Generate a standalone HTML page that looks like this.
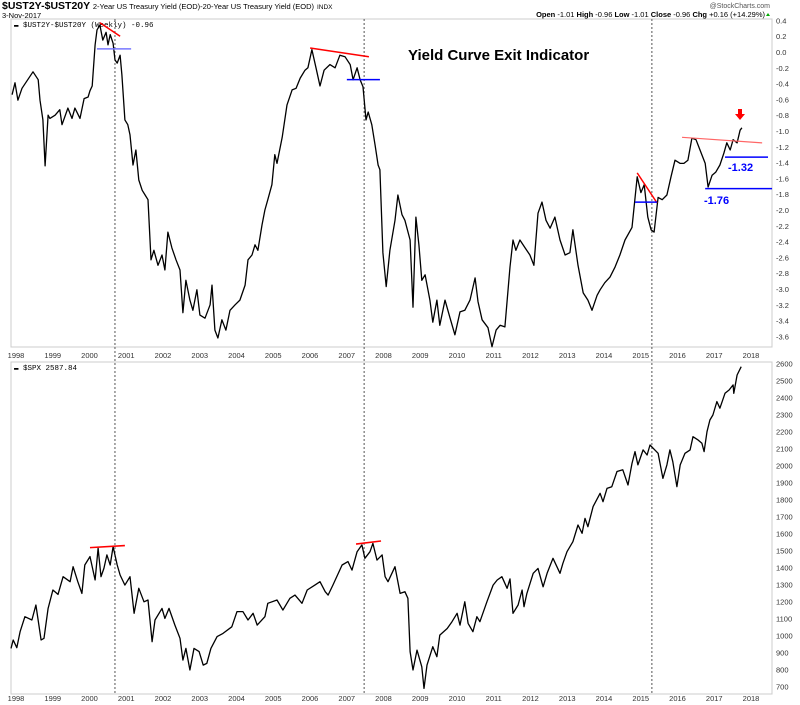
<!DOCTYPE html>
<html><head><meta charset="utf-8"><style>
html,body{margin:0;padding:0;background:#fff;}
svg{display:block;font-family:"Liberation Sans",sans-serif;}
</style></head><body>
<svg id="chart" width="800" height="705" viewBox="0 0 800 705" xmlns="http://www.w3.org/2000/svg">
<text x="2" y="9" font-size="10.5" font-weight="bold" fill="#000">$UST2Y-$UST20Y <tspan font-size="7.5" font-weight="normal">2-Year US Treasury Yield (EOD)-20-Year US Treasury Yield (EOD)</tspan> <tspan font-size="6.5" font-weight="normal">INDX</tspan></text>
<text x="2" y="18" font-size="7.5" fill="#000">3-Nov-2017</text>
<text x="770" y="8" font-size="7" fill="#555" text-anchor="end">@StockCharts.com</text>
<text x="765" y="17" font-size="7.5" fill="#000" text-anchor="end"><tspan font-weight="bold">Open</tspan> -1.01 <tspan font-weight="bold">High</tspan> -0.96 <tspan font-weight="bold">Low</tspan> -1.01 <tspan font-weight="bold">Close</tspan> -0.96 <tspan font-weight="bold">Chg</tspan> +0.16 (+14.29%)</text>
<polygon points="766,16 770,16 768,13" fill="#0a0"/>
<rect x="11" y="19" width="761" height="328" fill="none" stroke="#ccc"/>
<rect x="11" y="362" width="761" height="332" fill="none" stroke="#ccc"/>
<text x="14" y="27" font-size="7.5" font-family="Liberation Mono, monospace" fill="#000">▬ $UST2Y-$UST20Y (Weekly) -0.96</text>
<text x="14" y="370" font-size="7.5" font-family="Liberation Mono, monospace" fill="#000">▬ $SPX 2587.84</text>
<text x="408" y="60" font-size="15" font-weight="bold" fill="#000">Yield Curve Exit Indicator</text>
<g id="g"></g>
</svg>
<script>
const ycDates=[1997.92,1998.0,1998.08,1998.19,1998.49,1998.63,1998.68,1998.76,1998.82,1998.90,1998.95,1999.09,1999.22,1999.28,1999.44,1999.55,1999.63,1999.77,1999.88,1999.99,2000.04,2000.10,2000.18,2000.23,2000.31,2000.39,2000.48,2000.53,2000.59,2000.67,2000.72,2000.78,2000.86,2000.91,2000.99,2001.07,2001.13,2001.21,2001.29,2001.37,2001.46,2001.54,2001.62,2001.70,2001.78,2001.89,2002.00,2002.08,2002.16,2002.27,2002.38,2002.49,2002.57,2002.65,2002.76,2002.84,2002.95,2003.03,2003.17,2003.31,2003.36,2003.44,2003.52,2003.63,2003.74,2003.85,2003.99,2004.12,2004.26,2004.34,2004.45,2004.53,2004.61,2004.72,2004.80,2004.88,2004.99,2005.07,2005.13,2005.27,2005.40,2005.54,2005.65,2005.76,2005.89,2005.97,2006.08,2006.19,2006.30,2006.41,2006.57,2006.71,2006.84,2006.98,2007.12,2007.20,2007.31,2007.39,2007.47,2007.55,2007.61,2007.71,2007.80,2007.88,2007.93,2008.01,2008.10,2008.20,2008.34,2008.42,2008.53,2008.61,2008.75,2008.83,2008.91,2008.99,2009.07,2009.16,2009.29,2009.37,2009.48,2009.56,2009.70,2009.84,2009.97,2010.11,2010.24,2010.38,2010.52,2010.60,2010.71,2010.87,2010.98,2011.09,2011.20,2011.33,2011.47,2011.55,2011.63,2011.74,2011.88,2012.01,2012.12,2012.23,2012.34,2012.45,2012.56,2012.69,2012.83,2012.97,2013.10,2013.18,2013.32,2013.46,2013.59,2013.70,2013.84,2013.92,2014.05,2014.19,2014.33,2014.46,2014.60,2014.79,2014.93,2015.03,2015.12,2015.22,2015.31,2015.39,2015.50,2015.61,2015.74,2015.85,2015.96,2016.10,2016.20,2016.31,2016.42,2016.53,2016.64,2016.78,2016.86,2016.97,2017.07,2017.18,2017.29,2017.37,2017.46,2017.54,2017.65,2017.73,2017.78];
const ycValues=[-0.54,-0.39,-0.61,-0.46,-0.25,-0.35,-0.61,-0.86,-1.44,-0.80,-0.84,-0.80,-0.73,-0.92,-0.71,-0.84,-0.71,-0.84,-0.59,-0.57,-0.49,-0.43,0.09,0.28,0.34,0.15,0.25,0.09,0.22,0.11,-0.10,-0.14,-0.04,-0.29,-0.86,-0.92,-1.05,-1.43,-1.24,-1.62,-1.75,-1.81,-1.87,-2.63,-2.51,-2.70,-2.57,-2.76,-2.28,-2.48,-2.63,-2.76,-3.30,-2.89,-3.14,-3.27,-3.01,-3.33,-3.37,-3.20,-2.95,-3.52,-3.62,-3.39,-3.52,-3.27,-3.20,-3.14,-2.95,-2.63,-2.57,-2.44,-2.51,-2.19,-2.00,-1.87,-1.68,-1.30,-1.41,-1.08,-0.67,-0.48,-0.46,-0.33,-0.23,-0.20,0.03,-0.20,-0.43,-0.23,-0.16,-0.20,-0.04,-0.06,-0.16,-0.35,-0.20,-0.35,-0.44,-0.86,-0.76,-0.92,-1.18,-1.43,-1.49,-2.54,-2.97,-2.51,-2.13,-1.81,-2.06,-2.13,-2.38,-3.23,-2.09,-2.44,-2.89,-2.82,-3.14,-3.42,-3.14,-3.46,-3.14,-3.37,-3.58,-3.29,-3.27,-3.14,-2.86,-3.16,-3.39,-3.49,-3.73,-3.52,-3.46,-3.48,-2.72,-2.38,-2.51,-2.38,-2.48,-2.57,-2.70,-2.04,-1.90,-2.13,-2.23,-2.09,-2.38,-2.57,-2.54,-2.25,-2.70,-3.05,-3.14,-3.27,-3.08,-3.01,-2.92,-2.85,-2.72,-2.57,-2.38,-2.22,-1.58,-1.78,-1.68,-2.09,-2.25,-2.28,-1.84,-1.87,-1.81,-1.58,-1.37,-1.41,-1.41,-1.37,-1.09,-1.11,-1.24,-1.41,-1.71,-1.56,-1.52,-1.43,-1.28,-1.15,-1.24,-1.11,-1.15,-0.99,-0.96];
const spxDates=[1997.89,1997.95,1998.05,1998.14,1998.27,1998.46,1998.57,1998.71,1998.79,1998.90,1999.03,1999.17,1999.31,1999.50,1999.58,1999.71,1999.82,1999.90,2000.04,2000.18,2000.26,2000.34,2000.42,2000.50,2000.59,2000.67,2000.78,2000.86,2000.99,2001.13,2001.24,2001.37,2001.51,2001.62,2001.73,2001.81,2002.00,2002.08,2002.19,2002.35,2002.49,2002.57,2002.65,2002.76,2002.87,2003.01,2003.12,2003.22,2003.33,2003.50,2003.66,2003.90,2004.04,2004.20,2004.34,2004.48,2004.59,2004.80,2004.88,2005.13,2005.29,2005.48,2005.62,2005.81,2005.95,2006.16,2006.30,2006.44,2006.52,2006.65,2006.90,2007.06,2007.17,2007.31,2007.44,2007.52,2007.66,2007.74,2007.85,2007.99,2008.07,2008.15,2008.34,2008.48,2008.61,2008.69,2008.75,2008.83,2008.94,2009.07,2009.13,2009.21,2009.37,2009.48,2009.56,2009.76,2009.89,2010.03,2010.11,2010.24,2010.33,2010.46,2010.57,2010.65,2010.84,2011.01,2011.12,2011.25,2011.39,2011.47,2011.55,2011.69,2011.80,2011.85,2011.93,2012.10,2012.23,2012.37,2012.48,2012.64,2012.83,2012.91,2013.02,2013.18,2013.32,2013.43,2013.51,2013.59,2013.73,2013.92,2014.00,2014.11,2014.24,2014.38,2014.54,2014.68,2014.79,2014.87,2014.95,2015.09,2015.20,2015.28,2015.41,2015.50,2015.63,2015.74,2015.82,2015.90,2016.01,2016.10,2016.23,2016.37,2016.45,2016.59,2016.69,2016.75,2016.83,2016.91,2016.99,2017.10,2017.18,2017.32,2017.43,2017.54,2017.56,2017.65,2017.76];
const spxValues=[925,974,929,1023,1111,1092,1180,974,984,1160,1268,1242,1346,1317,1405,1317,1248,1415,1464,1327,1513,1346,1395,1474,1415,1523,1415,1356,1297,1346,1131,1278,1199,1209,964,1092,1160,1101,1160,1062,984,856,925,798,925,906,827,837,925,994,1013,1052,1141,1141,1092,1131,1062,1111,1190,1209,1150,1219,1238,1190,1268,1297,1317,1258,1238,1297,1415,1435,1385,1493,1533,1454,1493,1542,1444,1474,1346,1317,1405,1248,1258,1219,906,798,915,817,690,827,935,876,1003,1042,1082,1131,1062,1199,1072,1023,1111,1082,1199,1297,1327,1346,1278,1333,1131,1180,1268,1170,1248,1366,1395,1287,1366,1454,1366,1425,1493,1552,1650,1601,1689,1640,1758,1836,1787,1865,1875,1964,1974,1885,2012,2081,2003,2091,2061,2120,2091,2071,1924,2003,2091,2022,1875,2003,2071,2091,2169,2149,2130,2081,2198,2267,2296,2375,2336,2424,2443,2473,2424,2531,2580];
const yearTicks=[1998,1999,2000,2001,2002,2003,2004,2005,2006,2007,2008,2009,2010,2011,2012,2013,2014,2015,2016,2017,2018];
const ycTicks=[0.4,0.2,0.0,-0.2,-0.4,-0.6,-0.8,-1.0,-1.2,-1.4,-1.6,-1.8,-2.0,-2.2,-2.4,-2.6,-2.8,-3.0,-3.2,-3.4,-3.6];
const spxTicks=[2600,2500,2400,2300,2200,2100,2000,1900,1800,1700,1600,1500,1400,1300,1200,1100,1000,900,800,700];
const exitDates=[2000.72,2007.50,2015.33];
const ycRedLines=[[2000.31,0.37,2000.86,0.20],[2006.03,0.05,2007.63,-0.06],[2014.93,-1.53,2015.47,-1.91]];
const ycBlueLines=[[2000.23,0.04,2001.16,0.04],[2007.03,-0.35,2007.93,-0.35],[2014.87,-1.90,2015.47,-1.90],[2017.32,-1.33,2018.49,-1.33],[2016.78,-1.73,2018.60,-1.73]];
const ycTrendLine=[2016.15,-1.08,2018.33,-1.15];
const spxRedLines=[[2000.04,1517,2000.99,1529],[2007.28,1538,2007.96,1556]];

const NS='http://www.w3.org/2000/svg';
const g=document.getElementById('g');
const xS=y=>15+(y-1998)*36.75;
const yT=v=>52-79*v;
const yB=p=>363.3+(2600-p)*0.1702;
function mk(tag,attrs){const e=document.createElementNS(NS,tag);for(const k in attrs)e.setAttribute(k,attrs[k]);g.appendChild(e);return e;}
function txt(x,y,s,anchor){const e=mk('text',{x:x,y:y,'font-size':7.5,fill:'#333','text-anchor':anchor});e.textContent=s;return e;}

exitDates.forEach(d=>{
  const e=mk('line',{x1:xS(d),x2:xS(d),y1:19,y2:694,stroke:'#555','stroke-width':1,'stroke-dasharray':'2,2'});
  
  
});
yearTicks.forEach(yr=>{
  const a=txt(xS(yr)+1,358,String(yr),'middle');
  
  
  const b=txt(xS(yr)+1,701,String(yr),'middle');
  
  
});
ycTicks.forEach(v=>{
  const t=txt(776,yT(v)+3,v.toFixed(1),'start');
  
  
});
spxTicks.forEach(v=>{
  const t=txt(776,yB(v)+3,String(v),'start');
  
  
});
const yc=mk('polyline',{points:ycDates.map((d,i)=>xS(d).toFixed(1)+','+yT(ycValues[i]).toFixed(1)).join(' '),fill:'none',stroke:'#000','stroke-width':1.3,'stroke-linejoin':'round'});


const sp=mk('polyline',{points:spxDates.map((d,i)=>xS(d).toFixed(1)+','+yB(spxValues[i]).toFixed(1)).join(' '),fill:'none',stroke:'#000','stroke-width':1.3,'stroke-linejoin':'round'});


ycRedLines.forEach(l=>{
  const e=mk('line',{x1:xS(l[0]),y1:yT(l[1]),x2:xS(l[2]),y2:yT(l[3]),stroke:'#f00','stroke-width':1.5});
  
  
});
ycBlueLines.forEach((l,i)=>{
  const e=mk('line',{x1:xS(l[0]),y1:yT(l[1]),x2:xS(l[2]),y2:yT(l[3]),stroke:i==0?'#77f':'#00f','stroke-width':1.5});
  
  
});
const tl=mk('line',{x1:xS(ycTrendLine[0]),y1:yT(ycTrendLine[1]),x2:xS(ycTrendLine[2]),y2:yT(ycTrendLine[3]),stroke:'#f66','stroke-width':1.2});


spxRedLines.forEach(l=>{
  const e=mk('line',{x1:xS(l[0]),y1:yB(l[1]),x2:xS(l[2]),y2:yB(l[3]),stroke:'#f00','stroke-width':1.6});
  
  
});
const l1=mk('text',{x:728,y:171,'font-size':11,'font-weight':'bold',fill:'#00f'});l1.textContent='-1.32';


const l2=mk('text',{x:704,y:204,'font-size':11,'font-weight':'bold',fill:'#00f'});l2.textContent='-1.76';


const ar=mk('polygon',{points:'738,109 742,109 742,114 745,114 740,120 735,114 738,114',fill:'#f00'});


</script>
</body></html>
